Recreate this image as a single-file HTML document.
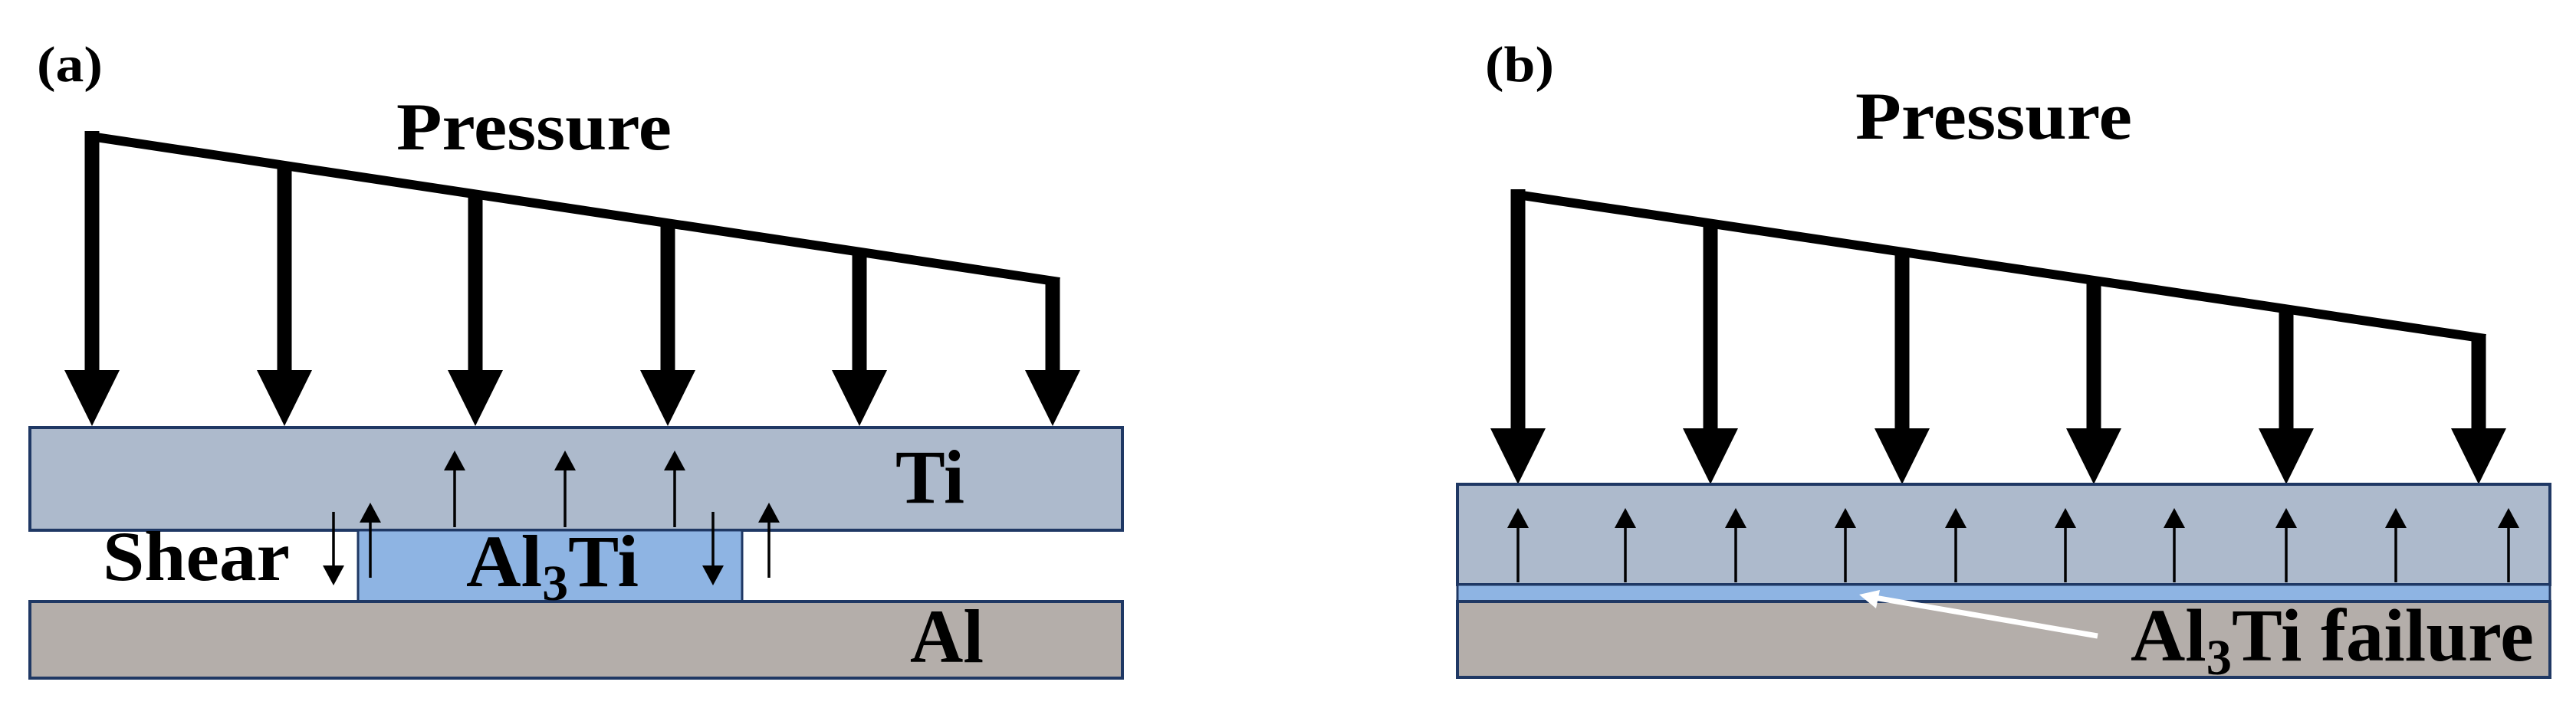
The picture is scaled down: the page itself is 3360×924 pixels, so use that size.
<!DOCTYPE html>
<html><head><meta charset="utf-8"><style>html,body{margin:0;padding:0;background:#fff}svg{display:block}text{font-family:"Liberation Serif","Times New Roman",serif;font-weight:bold}</style></head>
<body>
<svg width="3360" height="924" viewBox="0 0 3360 924" xmlns="http://www.w3.org/2000/svg">
<!-- Panel a -->
<text x="48" y="106" font-size="66" textLength="86" lengthAdjust="spacingAndGlyphs">(a)</text>
<text x="517" y="195" font-size="88" textLength="359" lengthAdjust="spacingAndGlyphs">Pressure</text>
<line x1="112" y1="177" x2="1382" y2="368" stroke="#000" stroke-width="12"/>
<g stroke="#000" stroke-width="19">
<line x1="120" y1="171" x2="120" y2="490"/>
<line x1="371" y1="213" x2="371" y2="490"/>
<line x1="620" y1="250" x2="620" y2="490"/>
<line x1="871" y1="288" x2="871" y2="490"/>
<line x1="1121" y1="326" x2="1121" y2="490"/>
<line x1="1373" y1="362" x2="1373" y2="490"/>
</g>
<g fill="#000">
<polygon points="84,483 156,483 120,556"/>
<polygon points="335,483 407,483 371,556"/>
<polygon points="584,483 656,483 620,556"/>
<polygon points="835,483 907,483 871,556"/>
<polygon points="1085,483 1157,483 1121,556"/>
<polygon points="1337,483 1409,483 1373,556"/>
</g>
<rect x="39" y="558" width="1425" height="134" fill="#adbacc" stroke="#1f3864" stroke-width="4"/>
<rect x="467" y="692" width="501" height="93" fill="#8eb4e3" stroke="#1f3864" stroke-width="3"/>
<rect x="39" y="785" width="1425" height="100" fill="#b4aeaa" stroke="#1f3864" stroke-width="4"/>
<text x="1168" y="656" font-size="100" textLength="90" lengthAdjust="spacingAndGlyphs">Ti</text>
<text x="1187" y="864" font-size="100" textLength="96" lengthAdjust="spacingAndGlyphs">Al</text>
<text x="134" y="757" font-size="92" textLength="244" lengthAdjust="spacingAndGlyphs">Shear</text>
<text x="608" y="765" font-size="96" textLength="225" lengthAdjust="spacingAndGlyphs">Al<tspan font-size="66" dy="18">3</tspan><tspan dy="-18">Ti</tspan></text>
<g stroke="#000" stroke-width="3.5">
<line x1="593" y1="688" x2="593" y2="610"/>
<line x1="737" y1="688" x2="737" y2="610"/>
<line x1="880" y1="688" x2="880" y2="610"/>
<line x1="435" y1="668" x2="435" y2="742"/>
<line x1="483" y1="754" x2="483" y2="678"/>
<line x1="930" y1="668" x2="930" y2="742"/>
<line x1="1003" y1="754" x2="1003" y2="678"/>
</g>
<g fill="#000">
<polygon points="579,614 607,614 593,588"/>
<polygon points="723,614 751,614 737,588"/>
<polygon points="866,614 894,614 880,588"/>
<polygon points="421,738 449,738 435,764"/>
<polygon points="469,682 497,682 483,656"/>
<polygon points="916,738 944,738 930,764"/>
<polygon points="989,682 1017,682 1003,656"/>
</g>
<!-- Panel b -->
<text x="1937" y="106" font-size="66" textLength="90" lengthAdjust="spacingAndGlyphs">(b)</text>
<text x="2420" y="181" font-size="88" textLength="361" lengthAdjust="spacingAndGlyphs">Pressure</text>
<line x1="1972" y1="253" x2="3242" y2="442" stroke="#000" stroke-width="12"/>
<g stroke="#000" stroke-width="19">
<line x1="1980" y1="247" x2="1980" y2="566"/>
<line x1="2231" y1="289" x2="2231" y2="566"/>
<line x1="2481" y1="326" x2="2481" y2="566"/>
<line x1="2731" y1="363" x2="2731" y2="566"/>
<line x1="2982" y1="400" x2="2982" y2="566"/>
<line x1="3233" y1="436" x2="3233" y2="566"/>
</g>
<g fill="#000">
<polygon points="1944,559 2016,559 1980,632"/>
<polygon points="2195,559 2267,559 2231,632"/>
<polygon points="2445,559 2517,559 2481,632"/>
<polygon points="2695,559 2767,559 2731,632"/>
<polygon points="2946,559 3018,559 2982,632"/>
<polygon points="3197,559 3269,559 3233,632"/>
</g>
<rect x="1901" y="632" width="1425" height="131" fill="#adbacc" stroke="#1f3864" stroke-width="4"/>
<rect x="1901" y="763" width="1425" height="22" fill="#8eb4e3" stroke="#1f3864" stroke-width="3"/>
<rect x="1901" y="785" width="1425" height="99" fill="#b4aeaa" stroke="#1f3864" stroke-width="4"/>
<g stroke="#000" stroke-width="3.5">
<line x1="1980" y1="760" x2="1980" y2="685"/>
<line x1="2120" y1="760" x2="2120" y2="685"/>
<line x1="2264" y1="760" x2="2264" y2="685"/>
<line x1="2407" y1="760" x2="2407" y2="685"/>
<line x1="2551" y1="760" x2="2551" y2="685"/>
<line x1="2694" y1="760" x2="2694" y2="685"/>
<line x1="2836" y1="760" x2="2836" y2="685"/>
<line x1="2982" y1="760" x2="2982" y2="685"/>
<line x1="3125" y1="760" x2="3125" y2="685"/>
<line x1="3272" y1="760" x2="3272" y2="685"/>
</g>
<g fill="#000">
<polygon points="1966,689 1994,689 1980,663"/>
<polygon points="2106,689 2134,689 2120,663"/>
<polygon points="2250,689 2278,689 2264,663"/>
<polygon points="2393,689 2421,689 2407,663"/>
<polygon points="2537,689 2565,689 2551,663"/>
<polygon points="2680,689 2708,689 2694,663"/>
<polygon points="2822,689 2850,689 2836,663"/>
<polygon points="2968,689 2996,689 2982,663"/>
<polygon points="3111,689 3139,689 3125,663"/>
<polygon points="3258,689 3286,689 3272,663"/>
</g>
<line x1="2736" y1="830" x2="2445" y2="780" stroke="#fff" stroke-width="7"/>
<polygon points="2425,776 2452,770 2447,794" fill="#fff"/>
<text x="2779" y="862" font-size="98" textLength="526" lengthAdjust="spacingAndGlyphs">Al<tspan font-size="66" dy="18">3</tspan><tspan dy="-18">Ti failure</tspan></text>
</svg>
</body></html>
